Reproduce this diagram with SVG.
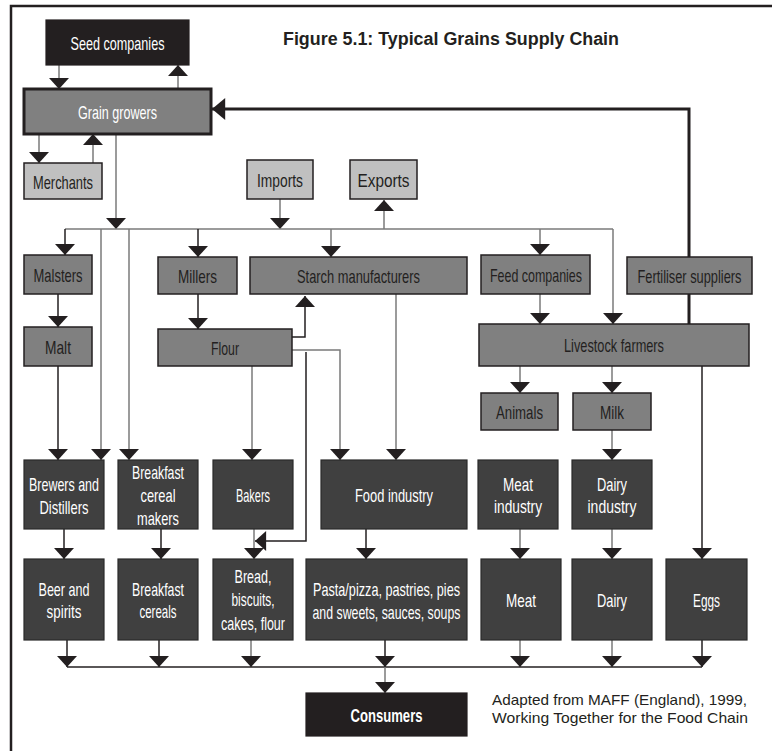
<svg xmlns="http://www.w3.org/2000/svg" width="772" height="751" viewBox="0 0 772 751">
<defs>
<style>
text{font-family:"Liberation Sans",Arial,sans-serif;font-size:19px;text-anchor:middle;lengthAdjust:spacingAndGlyphs}
.w{fill:#ffffff}
.d{fill:#231f20}
.gb{fill:#808080;stroke:#231f20;stroke-width:1.5}
.lb{fill:#c0c0c0;stroke:#231f20;stroke-width:1.5}
.db{fill:#404040;stroke:#2a2a2a;stroke-width:1.2}
.bb{fill:#231f20;stroke:#231f20;stroke-width:1.2}
.c{fill:none;stroke:#7a7a7a;stroke-width:1.5}
.k{fill:none;stroke:#231f20;stroke-width:1.5}
.fb{fill:none;stroke:#231f20;stroke-width:3}
</style>
<marker id="a" markerUnits="userSpaceOnUse" markerWidth="12" markerHeight="20" viewBox="0 0 10 18" refX="10" refY="9" orient="auto"><path d="M0,0 L10,9 L0,18 Z" fill="#231f20"/></marker>
<marker id="big" markerUnits="userSpaceOnUse" markerWidth="14" markerHeight="22" viewBox="0 0 12 20" refX="12" refY="10" orient="auto"><path d="M0,0 L12,10 L0,20 Z" fill="#231f20"/></marker>
</defs>
<rect width="772" height="751" fill="#ffffff"/>
<path d="M11,751 V6 H772" fill="none" stroke="#231f20" stroke-width="2.5"/>
<text x="283" y="45" class="d" style="font-weight:bold;font-size:18px;text-anchor:start" textLength="336" lengthAdjust="spacingAndGlyphs">Figure 5.1: Typical Grains Supply Chain</text>

<g id="connectors">
<path class="c" d="M59,65 V89" marker-end="url(#a)"/>
<path class="c" d="M178,89 V65" marker-end="url(#a)"/>
<path class="c" d="M39,134 V163" marker-end="url(#a)"/>
<path class="c" d="M93,163 V134" marker-end="url(#a)"/>
<path class="c" d="M116,134 V229" marker-end="url(#a)"/>
<path class="c" d="M280,199 V229" marker-end="url(#a)"/>
<path class="c" d="M384,229 V200" marker-end="url(#a)"/>
<path class="c" d="M65,229 H613"/>
<path class="k" d="M65,229 V255" marker-end="url(#a)"/>
<path class="c" d="M101,229 V460" marker-end="url(#a)"/>
<path class="c" d="M129,229 V460" marker-end="url(#a)"/>
<path class="k" d="M198,229 V257" marker-end="url(#a)"/>
<path class="c" d="M331,229 V257" marker-end="url(#a)"/>
<path class="c" d="M540,229 V255" marker-end="url(#a)"/>
<path class="c" d="M613,229 V324" marker-end="url(#a)"/>
<path class="fb" d="M689,324 V109 H212" marker-end="url(#big)"/>
<path class="k" d="M58,294 V327" marker-end="url(#a)"/>
<path class="k" d="M198,294 V329" marker-end="url(#a)"/>
<path class="k" d="M292,337 H305 V296" marker-end="url(#a)"/>
<path class="c" d="M292,350 H340 V460" marker-end="url(#a)"/>
<path class="k" d="M306,352 V541 H255" marker-end="url(#a)"/>
<path class="c" d="M252,366 V460" marker-end="url(#a)"/>
<path class="c" d="M396,294 V460" marker-end="url(#a)"/>
<path class="k" d="M58,366 V460" marker-end="url(#a)"/>
<path class="c" d="M540,294 V324" marker-end="url(#a)"/>
<path class="c" d="M520,366 V393" marker-end="url(#a)"/>
<path class="c" d="M612,366 V393" marker-end="url(#a)"/>
<path class="c" d="M612,430 V460" marker-end="url(#a)"/>
<path class="k" d="M702,366 V559" marker-end="url(#a)"/>
<path class="k" d="M64,529 V559" marker-end="url(#a)"/>
<path class="k" d="M161,529 V559" marker-end="url(#a)"/>
<path class="c" d="M254,529 V559" marker-end="url(#a)"/>
<path class="k" d="M366,529 V559" marker-end="url(#a)"/>
<path class="c" d="M520,529 V559" marker-end="url(#a)"/>
<path class="c" d="M612,529 V559" marker-end="url(#a)"/>
<path class="k" d="M67,640 V667" marker-end="url(#a)"/>
<path class="k" d="M159,640 V667" marker-end="url(#a)"/>
<path class="c" d="M251,640 V667" marker-end="url(#a)"/>
<path class="k" d="M385,640 V667" marker-end="url(#a)"/>
<path class="c" d="M520,640 V667" marker-end="url(#a)"/>
<path class="c" d="M612,640 V667" marker-end="url(#a)"/>
<path class="k" d="M702,640 V667" marker-end="url(#a)"/>
<path class="k" d="M67,667 H702"/>
<path class="c" d="M385,667 V693" marker-end="url(#a)"/>
</g>

<g id="seed"><rect class="bb" x="46" y="20" width="143" height="45"/><text class="w" x="117.5" y="50" textLength="94" lengthAdjust="spacingAndGlyphs">Seed companies</text></g>
<g id="grain"><rect x="24" y="89" width="187" height="45" fill="#808080" stroke="#231f20" stroke-width="3"/><text class="w" x="117.5" y="119" textLength="79" lengthAdjust="spacingAndGlyphs">Grain growers</text></g>
<g id="merchants"><rect class="lb" x="24" y="163" width="78" height="36"/><text class="d" x="63" y="189" textLength="60" lengthAdjust="spacingAndGlyphs">Merchants</text></g>
<g id="imports"><rect class="lb" x="247" y="160" width="66" height="39"/><text class="d" x="280" y="187" textLength="46" lengthAdjust="spacingAndGlyphs">Imports</text></g>
<g id="exports"><rect class="lb" x="350" y="160" width="67" height="39"/><text class="d" x="383.5" y="187" textLength="52" lengthAdjust="spacingAndGlyphs">Exports</text></g>

<g id="malsters"><rect class="gb" x="24" y="255" width="68" height="39"/><text class="d" x="58" y="282" textLength="49" lengthAdjust="spacingAndGlyphs">Malsters</text></g>
<g id="millers"><rect class="gb" x="158" y="257" width="79" height="37"/><text class="d" x="197.5" y="283" textLength="39" lengthAdjust="spacingAndGlyphs">Millers</text></g>
<g id="starch"><rect class="gb" x="250" y="257" width="217" height="37"/><text class="d" x="358.5" y="283" textLength="123" lengthAdjust="spacingAndGlyphs">Starch manufacturers</text></g>
<g id="feed"><rect class="gb" x="481" y="255" width="109" height="39"/><text class="d" x="536" y="282" textLength="92" lengthAdjust="spacingAndGlyphs">Feed companies</text></g>
<g id="fertiliser"><rect class="gb" x="627" y="257" width="125" height="37"/><text class="d" x="689.5" y="283" textLength="104" lengthAdjust="spacingAndGlyphs">Fertiliser suppliers</text></g>

<g id="malt"><rect class="gb" x="24" y="327" width="68" height="39"/><text class="d" x="58" y="354" textLength="26" lengthAdjust="spacingAndGlyphs">Malt</text></g>
<g id="flour"><rect class="gb" x="158" y="329" width="134" height="37"/><text class="d" x="225" y="355" textLength="28" lengthAdjust="spacingAndGlyphs">Flour</text></g>
<g id="livestock"><rect class="gb" x="479" y="324" width="270" height="42"/><text class="d" x="614" y="352" textLength="100" lengthAdjust="spacingAndGlyphs">Livestock farmers</text></g>
<g id="animals"><rect class="gb" x="481" y="393" width="77" height="37"/><text class="d" x="519.5" y="419" textLength="47" lengthAdjust="spacingAndGlyphs">Animals</text></g>
<g id="milk"><rect class="gb" x="573" y="393" width="78" height="37"/><text class="d" x="612" y="419" textLength="24" lengthAdjust="spacingAndGlyphs">Milk</text></g>

<g id="brewers"><rect class="db" x="24" y="460" width="80" height="69"/><text class="w" x="64" y="491" textLength="70" lengthAdjust="spacingAndGlyphs">Brewers and</text><text class="w" x="64" y="514" textLength="49" lengthAdjust="spacingAndGlyphs">Distillers</text></g>
<g id="cerealmakers"><rect class="db" x="118" y="460" width="80" height="69"/><text class="w" x="158" y="479" textLength="52" lengthAdjust="spacingAndGlyphs">Breakfast</text><text class="w" x="158" y="502" textLength="35" lengthAdjust="spacingAndGlyphs">cereal</text><text class="w" x="158" y="525" textLength="42" lengthAdjust="spacingAndGlyphs">makers</text></g>
<g id="bakers"><rect class="db" x="213" y="460" width="80" height="69"/><text class="w" x="253" y="502" textLength="34" lengthAdjust="spacingAndGlyphs">Bakers</text></g>
<g id="foodindustry"><rect class="db" x="321" y="460" width="146" height="69"/><text class="w" x="394" y="502" textLength="78" lengthAdjust="spacingAndGlyphs">Food industry</text></g>
<g id="meatindustry"><rect class="db" x="478" y="460" width="80" height="69"/><text class="w" x="518" y="491" textLength="30" lengthAdjust="spacingAndGlyphs">Meat</text><text class="w" x="518" y="513" textLength="48" lengthAdjust="spacingAndGlyphs">industry</text></g>
<g id="dairyindustry"><rect class="db" x="572" y="460" width="80" height="69"/><text class="w" x="612" y="491" textLength="30" lengthAdjust="spacingAndGlyphs">Dairy</text><text class="w" x="612" y="513" textLength="49" lengthAdjust="spacingAndGlyphs">industry</text></g>

<g id="beer"><rect class="db" x="24" y="559" width="80" height="81"/><text class="w" x="64" y="596" textLength="51" lengthAdjust="spacingAndGlyphs">Beer and</text><text class="w" x="64" y="618" textLength="35" lengthAdjust="spacingAndGlyphs">spirits</text></g>
<g id="cereals"><rect class="db" x="118" y="559" width="80" height="81"/><text class="w" x="158" y="596" textLength="52" lengthAdjust="spacingAndGlyphs">Breakfast</text><text class="w" x="158" y="618" textLength="37" lengthAdjust="spacingAndGlyphs">cereals</text></g>
<g id="bread"><rect class="db" x="213" y="559" width="80" height="81"/><text class="w" x="253" y="583" textLength="37" lengthAdjust="spacingAndGlyphs">Bread,</text><text class="w" x="253" y="606" textLength="43" lengthAdjust="spacingAndGlyphs">biscuits,</text><text class="w" x="253" y="630" textLength="64" lengthAdjust="spacingAndGlyphs">cakes, flour</text></g>
<g id="pasta"><rect class="db" x="306" y="559" width="161" height="81"/><text class="w" x="386.5" y="596" textLength="147" lengthAdjust="spacingAndGlyphs">Pasta/pizza, pastries, pies</text><text class="w" x="386.5" y="619" textLength="148" lengthAdjust="spacingAndGlyphs">and sweets, sauces, soups</text></g>
<g id="meat"><rect class="db" x="481" y="559" width="80" height="81"/><text class="w" x="521" y="607" textLength="30" lengthAdjust="spacingAndGlyphs">Meat</text></g>
<g id="dairy"><rect class="db" x="572" y="559" width="80" height="81"/><text class="w" x="612" y="607" textLength="30" lengthAdjust="spacingAndGlyphs">Dairy</text></g>
<g id="eggs"><rect class="db" x="666" y="559" width="81" height="81"/><text class="w" x="706.5" y="607" textLength="27" lengthAdjust="spacingAndGlyphs">Eggs</text></g>

<g id="consumers"><rect class="bb" x="306" y="693" width="161" height="43"/><text class="w" x="386.5" y="722" style="font-weight:bold" textLength="72" lengthAdjust="spacingAndGlyphs">Consumers</text></g>

<g id="caption">
<text class="d" x="492" y="705" style="font-size:15px;text-anchor:start" textLength="255" lengthAdjust="spacingAndGlyphs">Adapted from MAFF (England), 1999,</text>
<text class="d" x="492" y="723" style="font-size:15px;text-anchor:start" textLength="256" lengthAdjust="spacingAndGlyphs">Working Together for the Food Chain</text>
</g>
</svg>
